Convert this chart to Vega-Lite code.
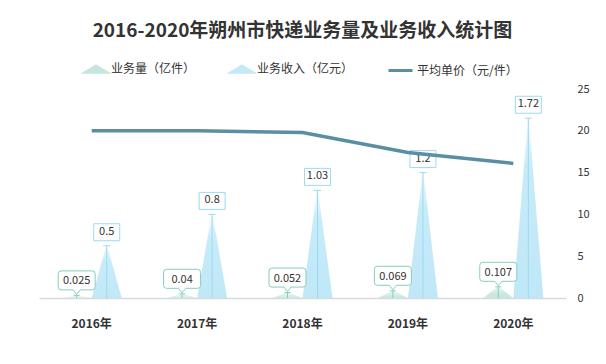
{
  "$schema": "https://vega.github.io/schema/vega-lite/v6.json",
  "width": 527,
  "height": 209,
  "autosize": {"type": "none"},
  "padding": {"left": 39, "top": 89, "right": 40, "bottom": 66},
  "background": "white",
  "config": {"font": "Noto Sans CJK SC", "view": {"stroke": null}},
  "title": {"text": "2016-2020年朔州市快递业务量及业务收入统计图", "fontSize": 19, "fontWeight": "bold", "color": "#333333", "anchor": "middle", "offset": 16, "font": "Noto Sans CJK SC"},
  "datasets": {
    "spikes": [
      {"year": "2016年", "series": "业务量（亿件）", "end": "tip", "value": 0.025},
      {"year": "2017年", "series": "业务量（亿件）", "end": "tip", "value": 0.04},
      {"year": "2018年", "series": "业务量（亿件）", "end": "tip", "value": 0.052},
      {"year": "2019年", "series": "业务量（亿件）", "end": "tip", "value": 0.069},
      {"year": "2020年", "series": "业务量（亿件）", "end": "tip", "value": 0.107},
      {"year": "2016年", "series": "业务收入（亿元）", "end": "tip", "value": 0.5},
      {"year": "2017年", "series": "业务收入（亿元）", "end": "tip", "value": 0.8},
      {"year": "2018年", "series": "业务收入（亿元）", "end": "tip", "value": 1.03},
      {"year": "2019年", "series": "业务收入（亿元）", "end": "tip", "value": 1.2},
      {"year": "2020年", "series": "业务收入（亿元）", "end": "tip", "value": 1.72}
    ],
    "price": [
      {"year": "2016年", "series": "平均单价（元/件）", "price": 20},
      {"year": "2017年", "series": "平均单价（元/件）", "price": 20},
      {"year": "2018年", "series": "平均单价（元/件）", "price": 19.8},
      {"year": "2019年", "series": "平均单价（元/件）", "price": 17.4},
      {"year": "2020年", "series": "平均单价（元/件）", "price": 16.1}
    ]
  },
  "layer": [
    {
      "data": {"name": "spikes"},
      "encoding": {
        "x": {"field": "year", "type": "nominal", "scale": {"type": "band", "paddingInner": 0.43, "paddingOuter": 0.215},
              "axis": {"title": null, "labelFontSize": 12, "labelFontWeight": "bold", "labelColor": "#333333", "ticks": false, "domainColor": "#d9d9d9", "domainWidth": 1.5, "labelPadding": 20, "labelAngle": 0}},
        "xOffset": {"field": "series", "type": "nominal", "scale": {"type": "point", "domain": ["业务量（亿件）", "业务收入（亿元）"], "padding": 0.5}},
        "y": {"field": "value", "type": "quantitative", "scale": {"domain": [0, 2], "nice": false, "zero": true}, "axis": null}
      },
      "layer": [
        {
          "transform": [
            {"filter": "datum.series == '业务量（亿件）'"},
            {"impute": "value", "key": "end", "keyvals": ["base"], "groupby": ["year", "series"], "value": 0}
          ],
          "mark": {"type": "trail", "clip": true, "fill": {"gradient": "linear", "x1": 0, "y1": 1, "x2": 0, "y2": 0, "stops": [{"offset": 0, "color": "#bfe4dc"}, {"offset": 0.7, "color": "#c8e8e1"}, {"offset": 1, "color": "#eef8f6"}]}},
          "encoding": {
            "detail": [{"field": "year"}, {"field": "series"}],
            "size": {"field": "end", "type": "ordinal", "scale": {"domain": ["base", "tip"], "range": [30, 0]}, "legend": null}
          }
        },
        {
          "transform": [
            {"filter": "datum.series == '业务收入（亿元）'"},
            {"impute": "value", "key": "end", "keyvals": ["base"], "groupby": ["year", "series"], "value": 0}
          ],
          "mark": {"type": "trail", "clip": true, "fill": {"gradient": "linear", "x1": 0, "y1": 1, "x2": 0, "y2": 0, "stops": [{"offset": 0, "color": "#bfe7f7"}, {"offset": 0.75, "color": "#c7ebf9"}, {"offset": 1, "color": "#f3fbfe"}]}},
          "encoding": {
            "detail": [{"field": "year"}, {"field": "series"}],
            "size": {"field": "end", "type": "ordinal", "scale": {"domain": ["base", "tip"], "range": [28, 0]}, "legend": null}
          }
        },
        {
          "mark": {"type": "rule", "strokeWidth": 1, "clip": true},
          "encoding": {
            "y2": {"datum": 0},
            "stroke": {"field": "series", "type": "nominal",
              "scale": {"domain": ["业务量（亿件）", "业务收入（亿元）"], "range": ["#86cdbf", "#9bdaf1"]},
              "legend": {"title": null, "orient": "none", "legendX": 45, "legendY": -32, "direction": "horizontal",
                         "labelFontSize": 12, "labelColor": "#333333", "labelFont": "Noto Sans CJK SC", "symbolSize": 576,
                         "columnPadding": 30, "labelOffset": 3,
                         "encode": {"symbols": {"update": {
                           "shape": {"value": "M-1.3,0.4L0,-0.4L1.3,0.4Z"},
                           "fill": {"signal": "datum.value === '业务量（亿件）' ? '#c4e6df' : '#c4e9f7'"},
                           "stroke": {"value": "transparent"},
                           "strokeWidth": {"value": 0},
                           "opacity": {"value": 1}
                         }}}}}
          }
        },
        {
          "transform": [{"filter": "datum.series == '业务量（亿件）'"}],
          "mark": {"type": "point", "filled": true, "fill": "white", "stroke": "#86cdbf", "opacity": 1, "strokeWidth": 1, "size": 400,
                   "shape": "M-1.55,-2.45H1.55Q1.85,-2.45 1.85,-2.15V-0.85Q1.85,-0.55 1.55,-0.55H0.35L0,-0.1L-0.35,-0.55H-1.55Q-1.85,-0.55 -1.85,-0.85V-2.15Q-1.85,-2.45 -1.55,-2.45ZM-0.3,0H0.3"}
        },
        {
          "transform": [{"filter": "datum.series == '业务收入（亿元）'"}],
          "mark": {"type": "point", "filled": true, "fill": "white", "stroke": "#9bdaf1", "opacity": 1, "strokeWidth": 1, "size": 400,
                   "shape": "M-1.3,-2.2H1.3V-0.5H-1.3ZM-0.35,0H0.35"}
        },
        {
          "mark": {"type": "text", "fontSize": 11, "color": "#333333", "dy": -14, "baseline": "middle", "font": "Noto Sans CJK SC"},
          "encoding": {"text": {"field": "value", "type": "nominal"}}
        }
      ]
    },
    {
      "data": {"name": "price"},
      "mark": {"type": "line", "strokeWidth": 3.5},
      "encoding": {
        "x": {"field": "year", "type": "nominal", "scale": {"type": "band", "paddingInner": 0.43, "paddingOuter": 0.215},
              "axis": {"title": null, "labelFontSize": 12, "labelFontWeight": "bold", "labelColor": "#333333", "ticks": false, "domainColor": "#d9d9d9", "domainWidth": 1.5, "labelPadding": 20, "labelAngle": 0}},
        "y": {"field": "price", "type": "quantitative", "scale": {"domain": [0, 25], "nice": false},
              "axis": {"orient": "right", "title": null, "domain": false, "ticks": false, "grid": false, "labelFontSize": 11, "labelColor": "#333333", "labelPadding": 11, "values": [0, 5, 10, 15, 20, 25]}},
        "color": {"field": "series", "type": "nominal",
                  "scale": {"domain": ["平均单价（元/件）"], "range": ["#5a8ea2"]},
                  "legend": {"title": null, "orient": "none", "legendX": 348, "legendY": -32, "direction": "horizontal",
                             "labelFontSize": 12, "labelColor": "#333333", "labelFont": "Noto Sans CJK SC", "symbolSize": 576,
                             "labelOffset": 3, "symbolStrokeWidth": 3, "symbolType": "stroke"}}
      }
    }
  ],
  "resolve": {"scale": {"y": "independent"}}
}
